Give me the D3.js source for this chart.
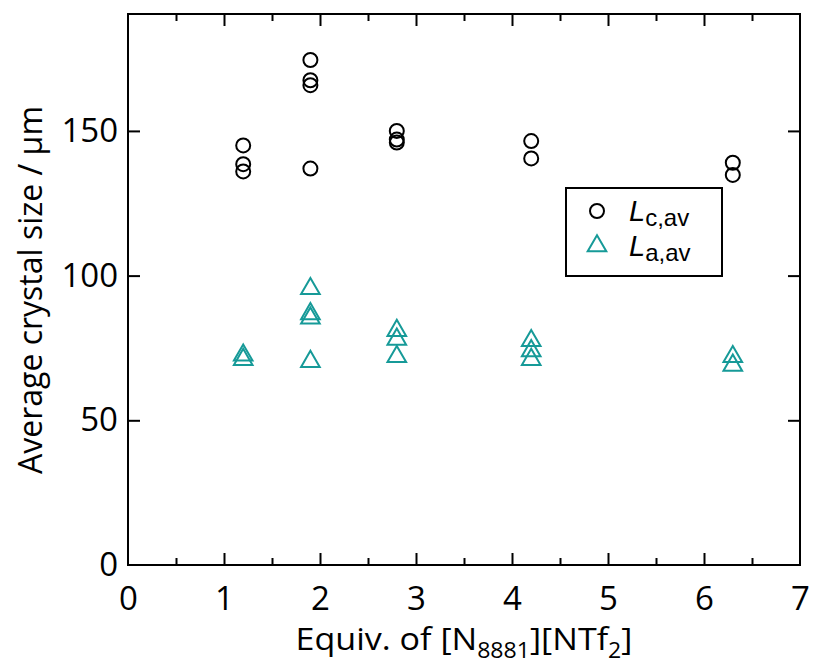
<!DOCTYPE html>
<html>
<head>
<meta charset="utf-8">
<script src="https://cdn.jsdelivr.net/npm/d3@7"></script>
<style>
  html, body { margin: 0; padding: 0; background: #fff; }
  svg { display: block; }
</style>
</head>
<body>
<svg id="chart" width="813" height="666"></svg>
<script>
// Average crystal length (c-axis) and width (a-axis) vs. equivalents of ionic liquid
const cX = [1.2, 1.2, 1.2, 1.9, 1.9, 1.9, 1.9, 2.8, 2.8, 2.8, 4.2, 4.2, 6.3, 6.3];
const cValues = [145, 138.5, 136, 174.5, 167.5, 165.8, 137, 150, 147, 146, 146.5, 140.5, 139, 134.8];

const aX = [1.2, 1.2, 1.9, 1.9, 1.9, 1.9, 2.8, 2.8, 2.8, 4.2, 4.2, 4.2, 6.3, 6.3];
const aValues = [72.5, 71, 95.5, 86.8, 85.3, 70.3, 81, 78, 72, 77.5, 74, 71, 72, 69];

const xTicks = [0, 1, 2, 3, 4, 5, 6, 7];
const xMinorTicks = [0.5, 1.5, 2.5, 3.5, 4.5, 5.5, 6.5];
const yTicks = [0, 50, 100, 150];

const teal = "#169a98";

const svg = d3.select("#chart");
const plotLeft = 128, plotRight = 800, plotTop = 14, plotBottom = 565;

const x = d3.scaleLinear().domain([0, 7]).range([plotLeft, plotRight]);
const y = d3.scaleLinear().domain([0, 190.4]).range([plotBottom, plotTop]);

const tickFont = "'Open Sans', 'Noto Sans', sans-serif";

// bottom axis: labels plus inward ticks
const gx = svg.append("g").attr("transform", `translate(0,${plotBottom})`);
gx.call(d3.axisBottom(x).tickValues(xTicks).tickSize(0).tickPadding(22).tickFormat(d3.format("d")));
gx.select(".domain").remove();
gx.selectAll("text").attr("font-family", tickFont).attr("font-size", 33).attr("fill", "#000");
svg.append("g").attr("transform", `translate(0,${plotBottom})`)
  .call(d3.axisTop(x).tickValues(xTicks.slice(1, -1)).tickSize(12).tickFormat(""))
  .call(g => g.select(".domain").remove());
svg.append("g").attr("transform", `translate(0,${plotBottom})`)
  .call(d3.axisTop(x).tickValues(xMinorTicks).tickSize(7).tickFormat(""))
  .call(g => g.select(".domain").remove());

// top edge ticks pointing down
svg.append("g").attr("transform", `translate(0,${plotTop})`)
  .call(d3.axisBottom(x).tickValues(xTicks.slice(1, -1)).tickSize(12).tickFormat(""))
  .call(g => g.select(".domain").remove());
svg.append("g").attr("transform", `translate(0,${plotTop})`)
  .call(d3.axisBottom(x).tickValues(xMinorTicks).tickSize(7).tickFormat(""))
  .call(g => g.select(".domain").remove());

// left axis
const gy = svg.append("g").attr("transform", `translate(${plotLeft},0)`);
gy.call(d3.axisLeft(y).tickValues(yTicks).tickSize(0).tickPadding(10).tickFormat(d3.format("d")));
gy.select(".domain").remove();
gy.selectAll("text").attr("font-family", tickFont).attr("font-size", 33).attr("fill", "#000");
svg.append("g").attr("transform", `translate(${plotLeft},0)`)
  .call(d3.axisRight(y).tickValues(yTicks.slice(1)).tickSize(12).tickFormat(""))
  .call(g => g.select(".domain").remove());
// right edge ticks
svg.append("g").attr("transform", `translate(${plotRight},0)`)
  .call(d3.axisLeft(y).tickValues(yTicks.slice(1)).tickSize(12).tickFormat(""))
  .call(g => g.select(".domain").remove());

svg.selectAll(".tick line").attr("stroke", "#000").attr("stroke-width", 2);

// plot frame
svg.append("rect")
  .attr("x", plotLeft).attr("y", plotTop)
  .attr("width", plotRight - plotLeft).attr("height", plotBottom - plotTop)
  .attr("fill", "none").attr("stroke", "#000").attr("stroke-width", 2);

// markers
const triPath = d3.symbol().type(d3.symbolTriangle).size(150);

svg.append("g").selectAll("circle")
  .data(cValues)
  .join("circle")
  .attr("cx", (d, i) => x(cX[i]))
  .attr("cy", d => y(d))
  .attr("r", 7)
  .attr("fill", "none").attr("stroke", "#000").attr("stroke-width", 2);

svg.append("g").selectAll("path")
  .data(aValues)
  .join("path")
  .attr("d", triPath)
  .attr("transform", (d, i) => `translate(${x(aX[i])},${y(d)})`)
  .attr("fill", "none").attr("stroke", teal).attr("stroke-width", 2);

// legend
const lg = svg.append("g");
lg.append("rect").attr("x", 566).attr("y", 188).attr("width", 156).attr("height", 88)
  .attr("fill", "#fff").attr("stroke", "#000").attr("stroke-width", 2);
lg.append("circle").attr("cx", 597).attr("cy", 211).attr("r", 7)
  .attr("fill", "none").attr("stroke", "#000").attr("stroke-width", 2);
lg.append("path").attr("d", triPath).attr("transform", "translate(597,246)")
  .attr("fill", "none").attr("stroke", teal).attr("stroke-width", 2);

const legendFont = "'Liberation Sans', Arial, sans-serif";
const legendLabels = [["c,av", 221], ["a,av", 256]];
legendLabels.forEach(([sub, yy]) => {
  const t = lg.append("text").attr("x", 629).attr("y", yy)
    .attr("font-family", legendFont).attr("font-size", 29).attr("fill", "#000");
  t.append("tspan").attr("font-style", "italic").text("L");
  t.append("tspan").attr("font-size", 24).attr("dy", 5).text(sub);
});

// axis titles
const titleFont = "'Open Sans', 'Noto Sans', sans-serif";
const xt = svg.append("text")
  .attr("x", 464).attr("y", 650)
  .attr("text-anchor", "middle")
  .attr("font-family", titleFont).attr("font-size", 31).attr("fill", "#000")
  .attr("textLength", 337).attr("lengthAdjust", "spacingAndGlyphs");
xt.append("tspan").text("Equiv. of [N");
xt.append("tspan").attr("font-size", 21).attr("dy", 8).text("8881");
xt.append("tspan").attr("dy", -8).text("][NTf");
xt.append("tspan").attr("font-size", 21).attr("dy", 8).text("2");
xt.append("tspan").attr("dy", -8).text("]");

svg.append("text")
  .attr("transform", "translate(42,290) rotate(-90)")
  .attr("text-anchor", "middle")
  .attr("font-family", titleFont).attr("font-size", 32).attr("fill", "#000")
  .text("Average crystal size / μm");
</script>
</body>
</html>
